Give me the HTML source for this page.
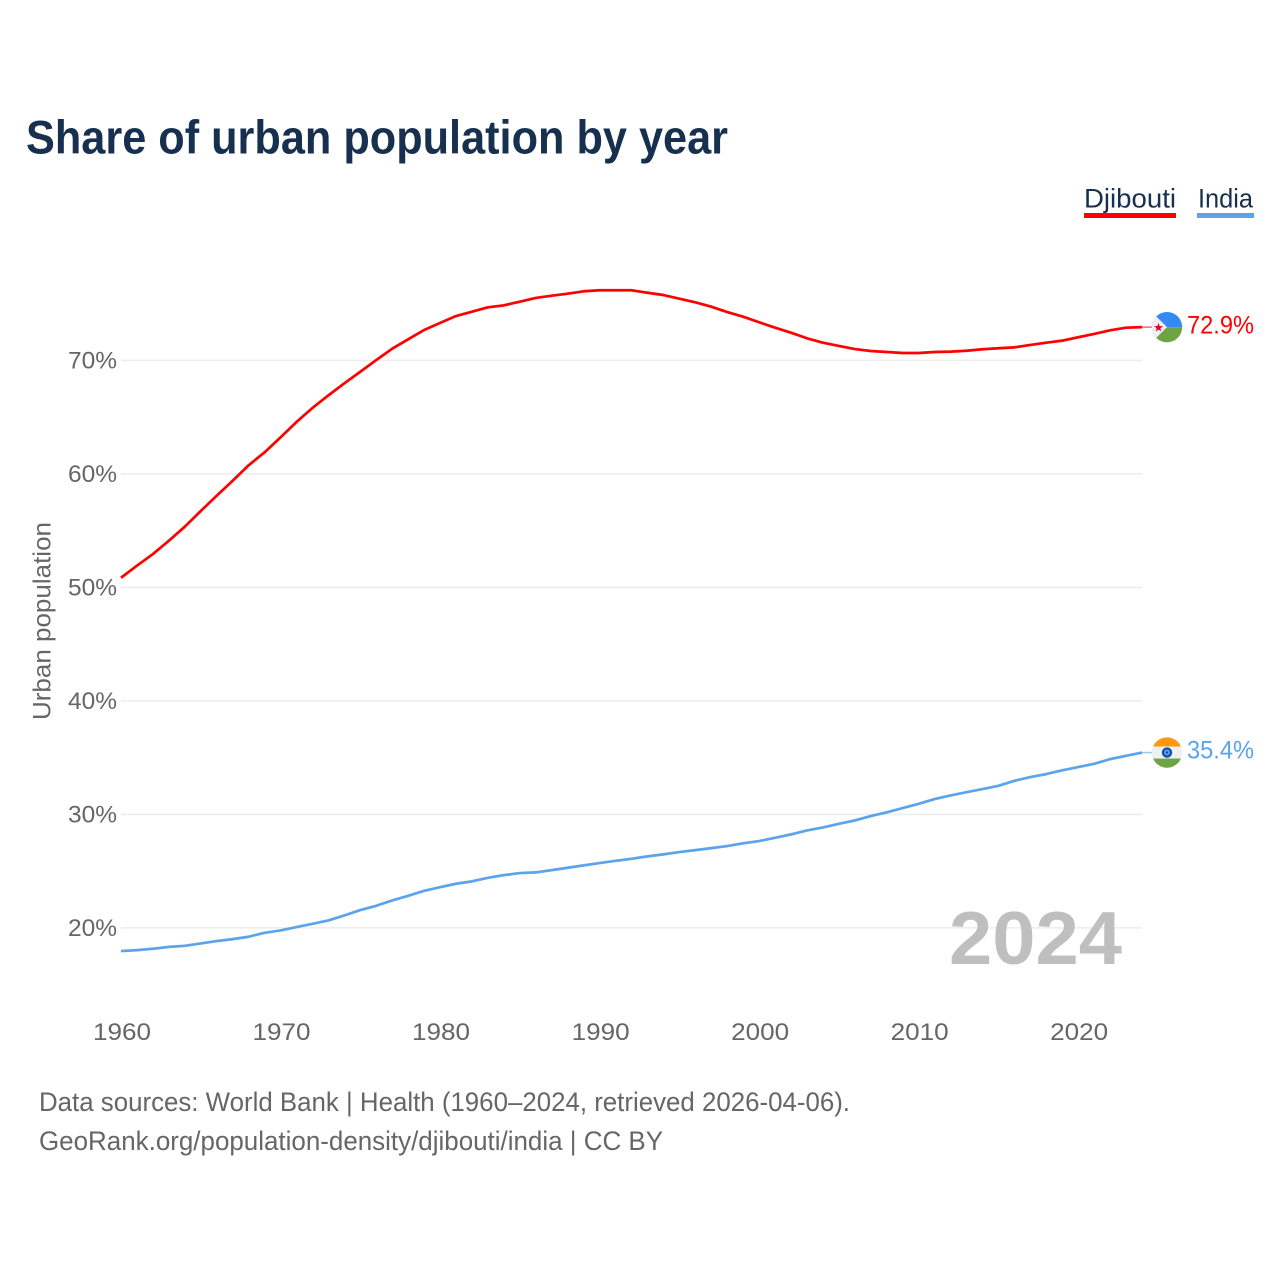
<!DOCTYPE html>
<html lang="en">
<head>
<meta charset="utf-8">
<title>Share of urban population by year</title>
<style>
html,body{margin:0;padding:0;background:#fff;width:1280px;height:1280px;overflow:hidden}
svg{display:block;font-family:"Liberation Sans",sans-serif}
</style>
</head>
<body>
<svg id="chart" xmlns="http://www.w3.org/2000/svg" width="1280" height="1280" viewBox="0 0 1280 1280">
  <text x="26" y="153.5" font-size="47" font-weight="700" fill="#18304f" textLength="702" lengthAdjust="spacingAndGlyphs">Share of urban population by year</text>

  <g>
    <g>
      <text x="1084" y="207.5" font-size="27" fill="#18304f" textLength="92" lengthAdjust="spacingAndGlyphs">Djibouti</text>
      <rect x="1084" y="213" width="92" height="5" fill="#ff0000"/>
    </g>
    <g>
      <text x="1198" y="207.5" font-size="27" fill="#18304f" textLength="55" lengthAdjust="spacingAndGlyphs">India</text>
      <rect x="1197" y="213" width="57" height="5" fill="#5ba4ec"/>
    </g>
  </g>

  <g id="grid"></g>
  <g id="yticks"></g>
  <g id="xticks"></g>

  <text transform="translate(50.5 621) rotate(-90)" text-anchor="middle" font-size="25" fill="#666666" textLength="198" lengthAdjust="spacingAndGlyphs">Urban population</text>

  <text x="949" y="964" font-size="75" font-weight="700" fill="#bfbfbf" textLength="173" lengthAdjust="spacingAndGlyphs">2024</text>

  <g id="series"></g>

  <defs>
    <clipPath id="flag-clip"><circle cx="0" cy="0" r="15.2"/></clipPath>
  </defs>

  <g id="flag-djibouti">
    <g clip-path="url(#flag-clip)">
      <rect x="-16" y="-16" width="32" height="16" fill="#338af3"/>
      <rect x="-16" y="0" width="32" height="16" fill="#6da544"/>
      <polygon points="-16,-16 -11,-11 0,0 -11,11 -16,16" fill="#f0f0f0"/>
      <text x="-8.5" y="4.5" font-size="12" text-anchor="middle" fill="#d80027" font-family="'DejaVu Sans',sans-serif">★</text>
    </g>
  </g>

  <g id="flag-india">
    <g clip-path="url(#flag-clip)">
      <rect x="-16" y="-16" width="32" height="10" fill="#ff9811"/>
      <rect x="-16" y="-6" width="32" height="12" fill="#f0f0f0"/>
      <rect x="-16" y="6" width="32" height="10" fill="#6da544"/>
      <circle cx="0" cy="0" r="5.2" fill="#0052b4"/>
      <circle cx="0" cy="0" r="3" fill="#6f97d2"/>
      <circle cx="0" cy="0" r="1.2" fill="#0052b4"/>
    </g>
  </g>

  <g id="end-labels"></g>

  <text x="39" y="1111" font-size="27" fill="#666666" textLength="811" lengthAdjust="spacingAndGlyphs">Data sources: World Bank | Health (1960–2024, retrieved 2026-04-06).</text>
  <text x="39" y="1150" font-size="27" fill="#666666" textLength="624" lengthAdjust="spacingAndGlyphs">GeoRank.org/population-density/djibouti/india | CC BY</text>
</svg>

<script>
const years = [1960,1961,1962,1963,1964,1965,1966,1967,1968,1969,1970,1971,1972,1973,1974,1975,1976,1977,1978,1979,1980,1981,1982,1983,1984,1985,1986,1987,1988,1989,1990,1991,1992,1993,1994,1995,1996,1997,1998,1999,2000,2001,2002,2003,2004,2005,2006,2007,2008,2009,2010,2011,2012,2013,2014,2015,2016,2017,2018,2019,2020,2021,2022,2023,2024];
const djiboutiValues = [50.85,51.91,52.94,54.11,55.35,56.73,58.08,59.4,60.76,61.9,63.22,64.57,65.81,66.92,67.98,69.0,70.03,71.03,71.86,72.68,73.3,73.91,74.29,74.68,74.85,75.17,75.5,75.7,75.88,76.09,76.18,76.18,76.18,75.96,75.76,75.44,75.12,74.73,74.26,73.85,73.36,72.88,72.44,71.95,71.56,71.27,71.0,70.83,70.74,70.65,70.65,70.74,70.77,70.85,70.98,71.07,71.15,71.36,71.56,71.74,72.04,72.33,72.65,72.88,72.93];
const indiaValues = [17.96,18.04,18.16,18.33,18.42,18.63,18.84,19.01,19.22,19.57,19.78,20.07,20.36,20.66,21.1,21.57,21.95,22.42,22.83,23.27,23.59,23.89,24.1,24.41,24.65,24.83,24.89,25.09,25.3,25.51,25.71,25.91,26.09,26.3,26.48,26.68,26.85,27.03,27.21,27.45,27.65,27.94,28.24,28.59,28.85,29.17,29.47,29.85,30.18,30.56,30.93,31.35,31.67,31.96,32.23,32.52,32.96,33.29,33.55,33.88,34.17,34.46,34.87,35.16,35.45];
const yTickValues = [20,30,40,50,60,70];
const xTickValues = [1960,1970,1980,1990,2000,2010,2020];
const endLabels = ["72.9%","35.4%"];

const NS = "http://www.w3.org/2000/svg";
function xScale(year){ return 121 + (year - 1960) * 15.953; }
function yScale(value){ return 360.4 + (70 - value) * 11.35; }
function make(tag, attrs, parent, text){
  const el = document.createElementNS(NS, tag);
  for (const k in attrs) el.setAttribute(k, attrs[k]);
  if (text !== undefined) el.textContent = text;
  parent.appendChild(el);
  return el;
}

const gridG = document.getElementById("grid");
const yG = document.getElementById("yticks");
yTickValues.forEach(function(v){
  const line = make("line", {x1:121, x2:1142, y1:yScale(v), y2:yScale(v), stroke:"#ececec", "stroke-width":1.5}, gridG);
  
  
  const t = make("text", {x:117, y:yScale(v)+8, "text-anchor":"end", "font-size":24, fill:"#666666", textLength:49, lengthAdjust:"spacingAndGlyphs"}, yG, v + "%");
  
  
});

const xG = document.getElementById("xticks");
xTickValues.forEach(function(yr){
  const t = make("text", {x:xScale(yr)+1, y:1040, "text-anchor":"middle", "font-size":24, fill:"#666666", textLength:58, lengthAdjust:"spacingAndGlyphs"}, xG, String(yr));
  
  
});

const seriesG = document.getElementById("series");
function linePoints(values){
  return values.map(function(v,i){ return xScale(years[i]).toFixed(2) + "," + yScale(v).toFixed(2); }).join(" ");
}
const djiboutiLine = make("polyline", {points:linePoints(djiboutiValues), fill:"none", stroke:"#ff0000", "stroke-width":2.7, "stroke-linejoin":"round"}, seriesG);


const indiaLine = make("polyline", {points:linePoints(indiaValues), fill:"none", stroke:"#5ba4ec", "stroke-width":2.7, "stroke-linejoin":"round"}, seriesG);



const lastX = xScale(years[years.length-1]);
const djiboutiLast = djiboutiValues[djiboutiValues.length-1];
const indiaLast = indiaValues[indiaValues.length-1];

const djiboutiTail = make("line", {x1:lastX, x2:lastX+11, y1:yScale(djiboutiLast), y2:yScale(djiboutiLast), stroke:"#ff0000", "stroke-width":1.5, opacity:0.6}, seriesG);


const indiaTail = make("line", {x1:lastX, x2:lastX+11, y1:yScale(indiaLast), y2:yScale(indiaLast), stroke:"#5ba4ec", "stroke-width":1.5, opacity:0.6}, seriesG);



document.getElementById("flag-djibouti").setAttribute("transform", "translate(" + (lastX+25) + " " + yScale(djiboutiLast) + ")");
document.getElementById("flag-india").setAttribute("transform", "translate(" + (lastX+25) + " " + yScale(indiaLast) + ")");

const labelsG = document.getElementById("end-labels");
const djiboutiLabel = make("text", {x:1187, y:yScale(djiboutiLast)+6.5, "font-size":25, fill:"#ff0000", textLength:67, lengthAdjust:"spacingAndGlyphs"}, labelsG, endLabels[0]);


const indiaLabel = make("text", {x:1187, y:yScale(indiaLast)+6, "font-size":25, fill:"#5ba4ec", textLength:67, lengthAdjust:"spacingAndGlyphs"}, labelsG, endLabels[1]);


</script>
</body>
</html>
